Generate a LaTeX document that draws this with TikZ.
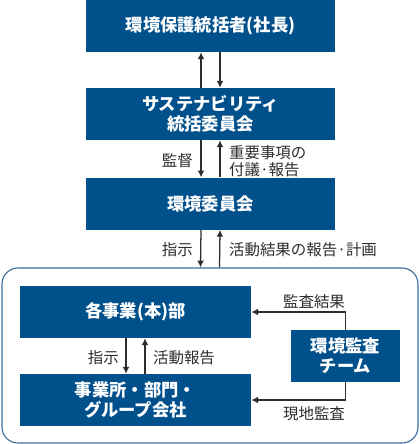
\documentclass[tikz,border=0pt]{standalone}
\usepackage{fontspec}
\setmainfont{Noto Sans CJK JP}
\usepackage{tikz}
\usetikzlibrary{arrows.meta,positioning}
\definecolor{envblue}{RGB}{0,80,140}
\definecolor{frameblue}{RGB}{62,108,160}
\definecolor{arrowgray}{RGB}{45,45,45}

\begin{document}
\begin{tikzpicture}[>=Latex,
  orgbox/.style={fill=envblue,draw=none,minimum height=1.3cm,align=center,text=white,font=\fontsize{12.3}{14}\selectfont\bfseries,inner sep=0pt},
  note/.style={font=\fontsize{11}{12.2}\selectfont,text=arrowgray,align=left,inner sep=0pt},
  flow/.style={draw=arrowgray,line width=0.9pt,-{Latex[length=1.7mm,width=1.7mm]}}]
\useasboundingbox (0,0) rectangle (10.5,-11.1);
% group frame
\node[draw=frameblue,line width=0.8pt,rounded corners=0.4cm,minimum width=10.4cm,minimum height=4.375cm,inner sep=0pt] (grp) at (5.25,-8.8875) {};
% management chain
\node[orgbox,minimum width=6.225cm] (ceo) at (5.2625,-0.65) {環境保護統括者(社長)};
\node[orgbox,minimum width=6.225cm] (susc) at (5.2625,-2.85) {サステナビリティ\\統括委員会};
\node[orgbox,minimum width=6.225cm] (envc) at (5.2625,-5.09) {環境委員会};
% inside the frame
\node[orgbox,minimum width=5.775cm] (div) at (3.3875,-7.8) {各事業(本)部};
\node[orgbox,minimum width=5.775cm] (site) at (3.3875,-10.0) {事業所・部門・\\グループ会社};
\node[orgbox,minimum width=2.725cm] (audit) at (8.6375,-8.9) {環境監査\\チーム};
% arrows
\draw[flow] ([xshift=-0.2375cm]susc.north) -- ([xshift=-0.2375cm]ceo.south);
\draw[flow] ([xshift=0.2375cm]ceo.south) -- ([xshift=0.2375cm]susc.north);
\draw[flow] ([xshift=-0.2375cm]susc.south) -- ([xshift=-0.2375cm]envc.north);
\draw[flow] ([xshift=0.2375cm]envc.north) -- ([xshift=0.2375cm]susc.south);
\draw[flow] ([xshift=-0.2375cm]envc.south) -- ([xshift=-0.2375cm]grp.north);
\draw[flow] ([xshift=0.2375cm]grp.north) -- ([xshift=0.2375cm]envc.south);
\draw[flow] ([xshift=-0.2375cm]div.south) -- ([xshift=-0.2375cm]site.north);
\draw[flow] ([xshift=0.2375cm]site.north) -- ([xshift=0.2375cm]div.south);
\draw[flow] (audit.north) |- (div.east);
\draw[flow] (audit.south) |- (site.east);
% labels
\node[note,anchor=east] (l1) at (4.83,-4.02) {監督};
\node[note,anchor=west] (l2) at (5.72,-4.02) {重要事項の\\付議·報告};
\node[note,anchor=east] (l3) at (4.83,-6.25) {指示};
\node[note,anchor=west] (l4) at (5.72,-6.25) {活動結果の報告·計画};
\node[note,anchor=east] (l5) at (2.98,-8.93) {指示};
\node[note,anchor=west] (l6) at (3.82,-8.93) {活動報告};
\node[note] (l7) at (7.85,-7.55) {監査結果};
\node[note] (l8) at (7.85,-10.35) {現地監査};
\end{tikzpicture}
\end{document}
